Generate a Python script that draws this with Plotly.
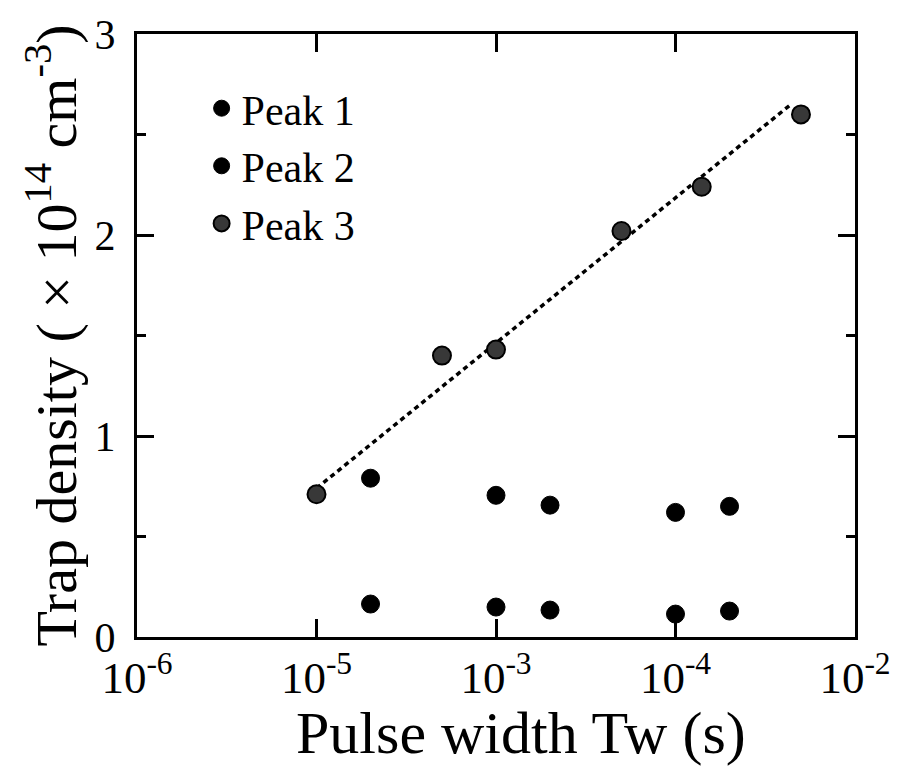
import plotly.graph_objects as go

# Data
peak1_x = [2e-5, 1e-4, 2e-4, 1e-3, 2e-3]
peak1_y = [0.164, 0.149, 0.134, 0.114, 0.129]

peak2_x = [2e-5, 1e-4, 2e-4, 1e-3, 2e-3]
peak2_y = [0.79, 0.705, 0.656, 0.62, 0.65]

peak3_x = [1e-5, 5e-5, 1e-4, 5e-4, 1.4e-3, 5e-3]
peak3_y = [0.71, 1.40, 1.43, 2.02, 2.24, 2.60]

fit_x = [1e-5, 4.4e-3]
fit_y = [0.74, 2.65]

x_tickvals = [1e-6, 1e-5, 1e-4, 1e-3, 1e-2]
x_ticktext = ["10<sup>-6</sup>", "10<sup>-5</sup>", "10<sup>-3</sup>",
              "10<sup>-4</sup>", "10<sup>-2</sup>"]
y_tickvals = [0, 1, 2, 3]

x_title = "Pulse width Tw (s)"
y_title = "Trap density ( \u00d7 10<sup>14</sup> cm<sup>-3</sup>)"

FONT = "Liberation Serif"

fig = go.Figure()
fig.add_trace(go.Scatter(x=fit_x, y=fit_y, mode="lines",
                         line=dict(color="black", width=3.5, dash="5px,4px"),
                         showlegend=False, hoverinfo="skip"))
fig.add_trace(go.Scatter(x=peak1_x, y=peak1_y, mode="markers", name="Peak 1",
                         marker=dict(size=18, color="black",
                                     line=dict(color="black", width=1))))
fig.add_trace(go.Scatter(x=peak2_x, y=peak2_y, mode="markers", name="Peak 2",
                         marker=dict(size=18, color="black",
                                     line=dict(color="black", width=1))))
fig.add_trace(go.Scatter(x=peak3_x, y=peak3_y, mode="markers", name="Peak 3",
                         marker=dict(size=18, color="#383838",
                                     line=dict(color="black", width=2))))

fig.update_layout(
    width=903, height=766,
    margin=dict(l=137, r=43, t=33, b=129),
    paper_bgcolor="white", plot_bgcolor="white",
    font=dict(family=FONT, color="black", size=44),
    legend=dict(x=0.09, y=0.933, xanchor="left", yanchor="top",
                font=dict(family=FONT, size=42, color="black"),
                bgcolor="rgba(0,0,0,0)", itemsizing="trace",
                tracegroupgap=0),
    xaxis=dict(type="log", range=[-6, -2],
               tickvals=x_tickvals, ticktext=x_ticktext,
               ticks="inside", ticklen=18, tickwidth=3, tickcolor="black",
               showline=True, linewidth=3, linecolor="black", mirror="ticks",
               showgrid=False, zeroline=False,
               tickfont=dict(family=FONT, size=45),
               ticklabelstandoff=-1),
    yaxis=dict(range=[0, 3], tickvals=y_tickvals,
               ticks="inside", ticklen=17, tickwidth=3, tickcolor="black",
               minor=dict(dtick=0.5, ticks="inside", ticklen=9, tickwidth=3,
                          tickcolor="black", showgrid=False),
               showline=True, linewidth=3, linecolor="black", mirror="ticks",
               showgrid=False, zeroline=False,
               tickfont=dict(family=FONT, size=42),
               ticklabelstandoff=10,
               title=dict(text=y_title,
                          font=dict(family=FONT, size=58), standoff=0)),
    annotations=[dict(text=x_title, xref="paper", yref="paper",
                      x=0.535, y=-0.16, xanchor="center", yanchor="middle",
                      showarrow=False, font=dict(family=FONT, size=60))],
)

fig.write_html("out.html")
